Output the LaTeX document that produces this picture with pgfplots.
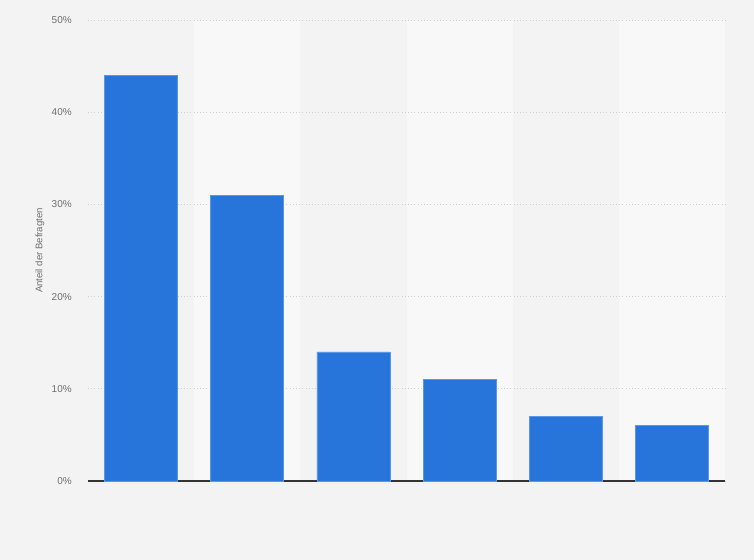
\documentclass[border=0pt]{standalone}
\usepackage{fontspec}
\setmainfont{Liberation Sans}
\usepackage{pgfplots}
\pgfplotsset{compat=1.18}
\definecolor{bg}{HTML}{F3F3F3}
\definecolor{band}{HTML}{F8F8F8}
\definecolor{barblue}{HTML}{2775DB}
\definecolor{baredge}{HTML}{5C97E6}
\definecolor{ticktext}{HTML}{6E6E6E}
\definecolor{gridgray}{HTML}{CFCFCF}
\begin{document}
\begin{tikzpicture}
% 1px = 0.75pt; page 754x560 px, axis box 88..725 x 20..481 px
\fill[bg] (-66pt,-59.25pt) rectangle (499.5pt,360.75pt);
% lighter column bands behind every second category
\foreach \k in {1,3,5}
    \fill[band] ({\k*79.625pt},0pt) rectangle ({(\k+1)*79.625pt},345.75pt);
\begin{axis}[
    scale only axis,
    width=477.75pt, height=345.75pt,
    xmin=-0.5, xmax=5.5,
    ymin=0, ymax=50,
    clip=false,
    axis x line*=bottom,
    axis y line*=left,
    x axis line style={draw=black!80, line width=1pt},
    y axis line style={draw=none},
    xtick=\empty,
    ytick={0,10,20,30,40,50},
    yticklabels={0\%,10\%,20\%,30\%,40\%,50\%},
    major tick length=0pt,
    ymajorgrids=true,
    grid style={gridgray, dotted, line width=0.6pt},
    /pgf/number format/assume math mode=true,
    yticklabel style={font=\fontsize{7.5}{9}\selectfont, text=ticktext,
        anchor=east, inner sep=0pt, xshift=-12pt},
    ylabel={Anteil der Befragten},
    ylabel style={font=\fontsize{7.2}{8.5}\selectfont, text=ticktext,
        at={(axis description cs:0,0.5)}, anchor=center, yshift=36pt},
    ybar,
    bar width=54.75pt,
]
\addplot[fill=barblue, draw=baredge, line width=0.4pt] coordinates {
    (0,44) (1,31) (2,14) (3,11) (4,7) (5,6)
};
\end{axis}
\end{tikzpicture}
\end{document}
